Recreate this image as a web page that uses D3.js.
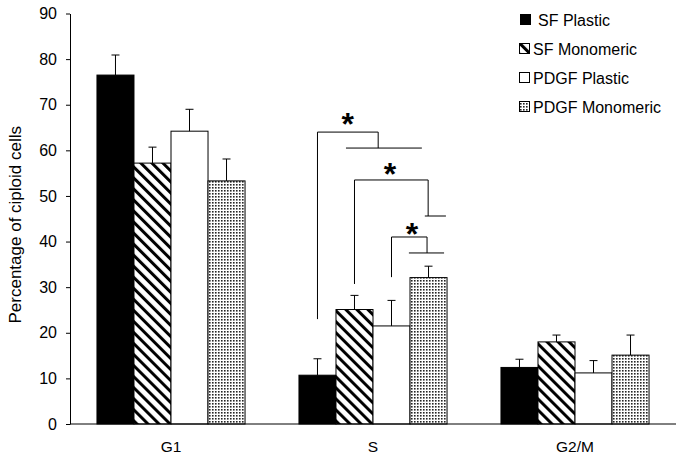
<!DOCTYPE html>
<html>
<head>
<meta charset="utf-8">
<script src="https://cdn.jsdelivr.net/npm/d3@7"></script>
<style>
  html, body { margin: 0; padding: 0; background: #fff; }
  svg { display: block; font-family: "Liberation Sans", Arial, sans-serif; }
</style>
</head>
<body>
<svg id="chart" width="683" height="457"></svg>
<script>
// ---- data ----
const categories = ["G1", "S", "G2/M"];
const seriesNames = ["SF Plastic", "SF Monomeric", "PDGF Plastic", "PDGF Monomeric"];
const sfPlastic = [76.5, 10.7, 12.4];
const sfPlasticErr = [4.4, 3.6, 1.8];
const sfMonomeric = [57.2, 25.1, 18.0];
const sfMonomericErr = [3.5, 3.1, 1.5];
const pdgfPlastic = [64.2, 21.5, 11.2];
const pdgfPlasticErr = [4.8, 5.6, 2.7];
const pdgfMonomeric = [53.3, 32.1, 15.1];
const pdgfMonomericErr = [4.8, 2.5, 4.4];
const yTicks = [0, 10, 20, 30, 40, 50, 60, 70, 80, 90];
const yLabel = "Percentage of ciploid cells";
// significance brackets within the "S" group (x in bar slots 0..4, y in data units)
const brackets = [
  { left: 0.5, bottom: 23.0, top: 64.0, right: 2.14, drop: 60.5, from: 1.27, to: 3.32, starX: 1.32, starY: 67.1 },
  { left: 1.5, bottom: 30.7, top: 53.5, right: 3.49, drop: 45.6, from: 3.4, to: 3.97, starX: 2.46, starY: 56.1 },
  { left: 2.5, bottom: 32.2, top: 41.0, right: 3.46, drop: 37.5, from: 2.97, to: 3.92, starX: 3.05, starY: 43.0 }
];

const values = [sfPlastic, sfMonomeric, pdgfPlastic, pdgfMonomeric];
const errors = [sfPlasticErr, sfMonomericErr, pdgfPlasticErr, pdgfMonomericErr];
const fills = ["#000", "url(#hatch)", "#fff", "url(#dots)"];

const svg = d3.select("#chart");
const mLeft = 70, mRight = 676, mBottom = 424, mTop = 13.5;

const defs = svg.append("defs");
const hatch = defs.append("pattern").attr("id", "hatch")
  .attr("patternUnits", "userSpaceOnUse").attr("width", 7.8).attr("height", 7.8)
  .attr("patternTransform", "rotate(-45)");
hatch.append("rect").attr("width", 7.8).attr("height", 7.8).attr("fill", "#fff");
hatch.append("rect").attr("width", 3).attr("height", 7.8).attr("fill", "#000");

const dots = defs.append("pattern").attr("id", "dots")
  .attr("patternUnits", "userSpaceOnUse").attr("width", 3).attr("height", 3);
dots.append("rect").attr("width", 3).attr("height", 3).attr("fill", "#fff");
dots.append("rect").attr("x", 1).attr("y", 1).attr("width", 1.6).attr("height", 1.6).attr("fill", "#222");

const x0 = d3.scaleBand().domain(categories).range([mLeft, mRight])
  .paddingInner(0.267).paddingOuter(0.1335);
const x1 = d3.scaleBand().domain(seriesNames).range([0, x0.bandwidth()]).padding(0);
const y = d3.scaleLinear().domain([0, 90]).range([mBottom, mTop]);

// y axis
const yAxis = svg.append("g").attr("transform", `translate(${mLeft},0)`)
  .call(d3.axisLeft(y).tickValues(yTicks).tickSize(4).tickSizeOuter(0).tickPadding(9));
yAxis.select(".domain").attr("stroke", "#000").attr("stroke-width", 1);
yAxis.selectAll(".tick line").attr("stroke", "#000");
yAxis.selectAll(".tick text").attr("font-size", 16).attr("fill", "#000")
  .attr("font-family", "Liberation Sans, Arial, sans-serif");

svg.append("text").attr("transform", `translate(21,${(mTop + mBottom) / 2 + 6}) rotate(-90)`)
  .attr("text-anchor", "middle").attr("font-size", 17).text(yLabel);

// bars
const groups = svg.append("g").selectAll("g").data(categories).join("g")
  .attr("transform", c => `translate(${x0(c)},0)`);

seriesNames.forEach((s, si) => {
  groups.append("rect")
    .attr("x", x1(s))
    .attr("y", (c, ci) => y(values[si][ci]))
    .attr("width", x1.bandwidth())
    .attr("height", (c, ci) => y(0) - y(values[si][ci]))
    .attr("fill", fills[si])
    .attr("stroke", "#000").attr("stroke-width", 1);
  // error bars (upper only)
  groups.append("line")
    .attr("x1", x1(s) + x1.bandwidth() / 2).attr("x2", x1(s) + x1.bandwidth() / 2)
    .attr("y1", (c, ci) => y(values[si][ci]))
    .attr("y2", (c, ci) => y(values[si][ci] + errors[si][ci]))
    .attr("stroke", "#000").attr("stroke-width", 1);
  groups.append("line")
    .attr("x1", x1(s) + x1.bandwidth() / 2 - 4).attr("x2", x1(s) + x1.bandwidth() / 2 + 4)
    .attr("y1", (c, ci) => y(values[si][ci] + errors[si][ci]))
    .attr("y2", (c, ci) => y(values[si][ci] + errors[si][ci]))
    .attr("stroke", "#000").attr("stroke-width", 1);
});

// x axis
svg.append("line").attr("x1", mLeft).attr("x2", mRight).attr("y1", mBottom).attr("y2", mBottom)
  .attr("stroke", "#000").attr("stroke-width", 1);
svg.append("g").selectAll("text").data(categories).join("text")
  .attr("x", c => x0(c) + x0.bandwidth() / 2).attr("y", 452)
  .attr("text-anchor", "middle").attr("font-size", 15.5).text(c => c);

// significance brackets
const slot = d3.scaleLinear().domain([0, 4]).range([x0("S"), x0("S") + x0.bandwidth()]);
const bg = svg.append("g").attr("fill", "none").attr("stroke", "#000").attr("stroke-width", 1);
brackets.forEach(b => {
  bg.append("path").attr("d",
    `M${slot(b.left)},${y(b.bottom)}V${y(b.top)}H${slot(b.right)}V${y(b.drop)}` +
    `M${slot(b.from)},${y(b.drop)}H${slot(b.to)}`);
  svg.append("text").attr("x", slot(b.starX)).attr("y", y(b.starY) + 17)
    .attr("text-anchor", "middle").attr("font-size", 32).attr("font-weight", "bold").text("*");
});

// legend
const legend = svg.append("g");
seriesNames.forEach((s, i) => {
  const cy = 20 + i * 29;
  legend.append("rect").attr("x", i === 0 ? 520.5 : 519.5).attr("y", cy - 5.5)
    .attr("width", 10).attr("height", 10)
    .attr("fill", fills[i]).attr("stroke", "#000").attr("stroke-width", 1);
  legend.append("text").attr("x", i === 0 ? 538 : 533).attr("y", cy + 6)
    .attr("font-size", 16).text(s);
});
</script>
</body>
</html>
